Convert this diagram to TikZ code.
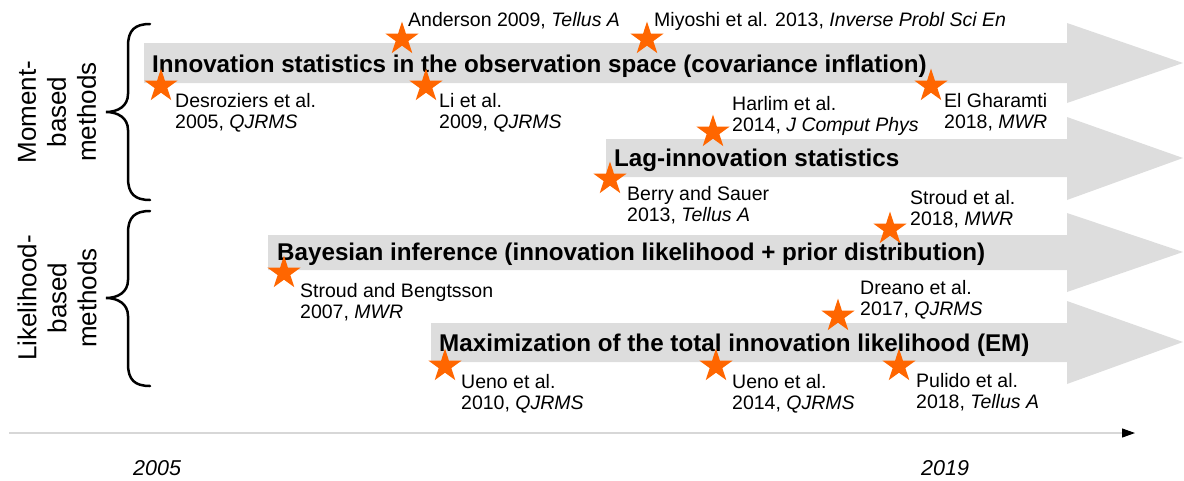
\documentclass[tikz,border=0pt]{standalone}
\usepackage{fontspec}
\setmainfont{Liberation Sans}
\usetikzlibrary{shapes.geometric,arrows.meta}

\definecolor{arrowgray}{RGB}{221,221,221}
\definecolor{axisgray}{RGB}{215,215,215}
\definecolor{starorange}{RGB}{255,102,0}

\begin{document}
\begin{tikzpicture}[x=1pt,y=-1pt,
  fatarrow/.style={fill=arrowgray},
  starmark/.style={star, star points=5, star point ratio=2.618,
    minimum size=35pt, inner sep=0pt, fill=starorange},
  method/.style={font=\bfseries\fontsize{24.2}{28}\selectfont,
    anchor=base west, inner sep=0pt},
  paper/.style={font=\fontsize{19.5}{21.5}\selectfont,
    anchor=base west, align=left, inner sep=0pt},
  group/.style={font=\fontsize{26}{30}\selectfont, rotate=90,
    align=center, inner sep=0pt},
  year/.style={font=\itshape\fontsize{21.5}{24}\selectfont,
    anchor=base west, inner sep=0pt},
  bracket/.style={line width=2.5pt, line cap=round}]

  \useasboundingbox (0,0) rectangle (1184,480);

  % Wide gray arrows, one per family of methods
  \fill[fatarrow] (144,43) -- (1067,43) -- (1067,23) -- (1183,63)
    -- (1067,103) -- (1067,83) -- (144,83) -- cycle;
  \fill[fatarrow] (606,139) -- (1067,139) -- (1067,117) -- (1183,158)
    -- (1067,200) -- (1067,177) -- (606,177) -- cycle;
  \fill[fatarrow] (268,235) -- (1067,235) -- (1067,213) -- (1183,252)
    -- (1067,292) -- (1067,270) -- (268,270) -- cycle;
  \fill[fatarrow] (431,323) -- (1067,323) -- (1067,301) -- (1183,342)
    -- (1067,384) -- (1067,362) -- (431,362) -- cycle;

  % Method names on the arrows
  \node[method] (innov) at (152,72)
    {Innovation statistics in the observation space (covariance inflation)};
  \node[method] (lag) at (614,166) {Lag-innovation statistics};
  \node[method] (bayes) at (277,260)
    {Bayesian inference (innovation likelihood + prior distribution)};
  \node[method] (em) at (439,351)
    {Maximization of the total innovation likelihood (EM)};

  % Braces and group names
  \draw[bracket] (150,24) .. controls (135,24) and (128,30) .. (128,46)
    -- (128,94) .. controls (128,106) and (118,112) .. (106,112)
    .. controls (118,112) and (128,118) .. (128,130)
    -- (128,178) .. controls (128,194) and (135,200) .. (150,200);
  \draw[bracket] (150,211) .. controls (135,211) and (128,217) .. (128,233)
    -- (128,280) .. controls (128,292) and (118,298) .. (106,298)
    .. controls (118,298) and (128,304) .. (128,316)
    -- (128,364) .. controls (128,380) and (135,386) .. (150,386);
  \node[group] (moment) at (57,112) {Moment-\\based\\methods};
  \node[group] (likeli) at (57,298) {Likelihood-\\based\\methods};

  % Papers (two-line labels sit on the baseline of their last line)
  \node[starmark] (s-desroziers) at (161,86) {};
  \node[paper] (desroziers) at (175,128.5) {Desroziers et al.\\2005, \textit{QJRMS}};
  \node[starmark] (s-anderson) at (402,39) {};
  \node[paper] (anderson) at (408,26) {Anderson 2009, \textit{Tellus A}};
  \node[starmark] (s-li) at (426,86) {};
  \node[paper] (li) at (439,128.5) {Li et al.\\2009, \textit{QJRMS}};
  \node[starmark] (s-miyoshi) at (647,39) {};
  \node[paper] (miyoshi) at (654,26) {Miyoshi et al. 2013, \textit{Inverse Probl Sci En}};
  \node[starmark] (s-harlim) at (713,132) {};
  \node[paper] (harlim) at (732,131.5) {Harlim et al.\\2014, \textit{J Comput Phys}};
  \node[starmark] (s-gharamti) at (931,86) {};
  \node[paper] (gharamti) at (944,128.5) {El Gharamti\\2018, \textit{MWR}};
  \node[starmark] (s-berry) at (610,179) {};
  \node[paper] (berry) at (627,221.5) {Berry and Sauer\\2013, \textit{Tellus A}};
  \node[starmark] (s-stroud18) at (890,229) {};
  \node[paper] (stroud18) at (910,225.5) {Stroud et al.\\2018, \textit{MWR}};
  \node[starmark] (s-stroud07) at (284,273) {};
  \node[paper] (stroud07) at (300,318.5) {Stroud and Bengtsson\\2007, \textit{MWR}};
  \node[starmark] (s-dreano) at (838,316) {};
  \node[paper] (dreano) at (860,315.5) {Dreano et al.\\2017, \textit{QJRMS}};
  \node[starmark] (s-ueno10) at (445,366) {};
  \node[paper] (ueno10) at (461,409.5) {Ueno et al.\\2010, \textit{QJRMS}};
  \node[starmark] (s-ueno14) at (716,366) {};
  \node[paper] (ueno14) at (732,409.5) {Ueno et al.\\2014, \textit{QJRMS}};
  \node[starmark] (s-pulido) at (899,366) {};
  \node[paper] (pulido) at (916,408.5) {Pulido et al.\\2018, \textit{Tellus A}};

  % Time axis
  \coordinate (t-start) at (9,433);
  \coordinate (t-end) at (1135,433);
  \draw[axisgray, line width=1.2pt,
    -{Triangle[length=13pt,width=9pt,color=black]}] (t-start) -- (t-end);
  \node[year] (y2005) at (133,475) {2005};
  \node[year] (y2019) at (921,475) {2019};

\end{tikzpicture}
\end{document}
